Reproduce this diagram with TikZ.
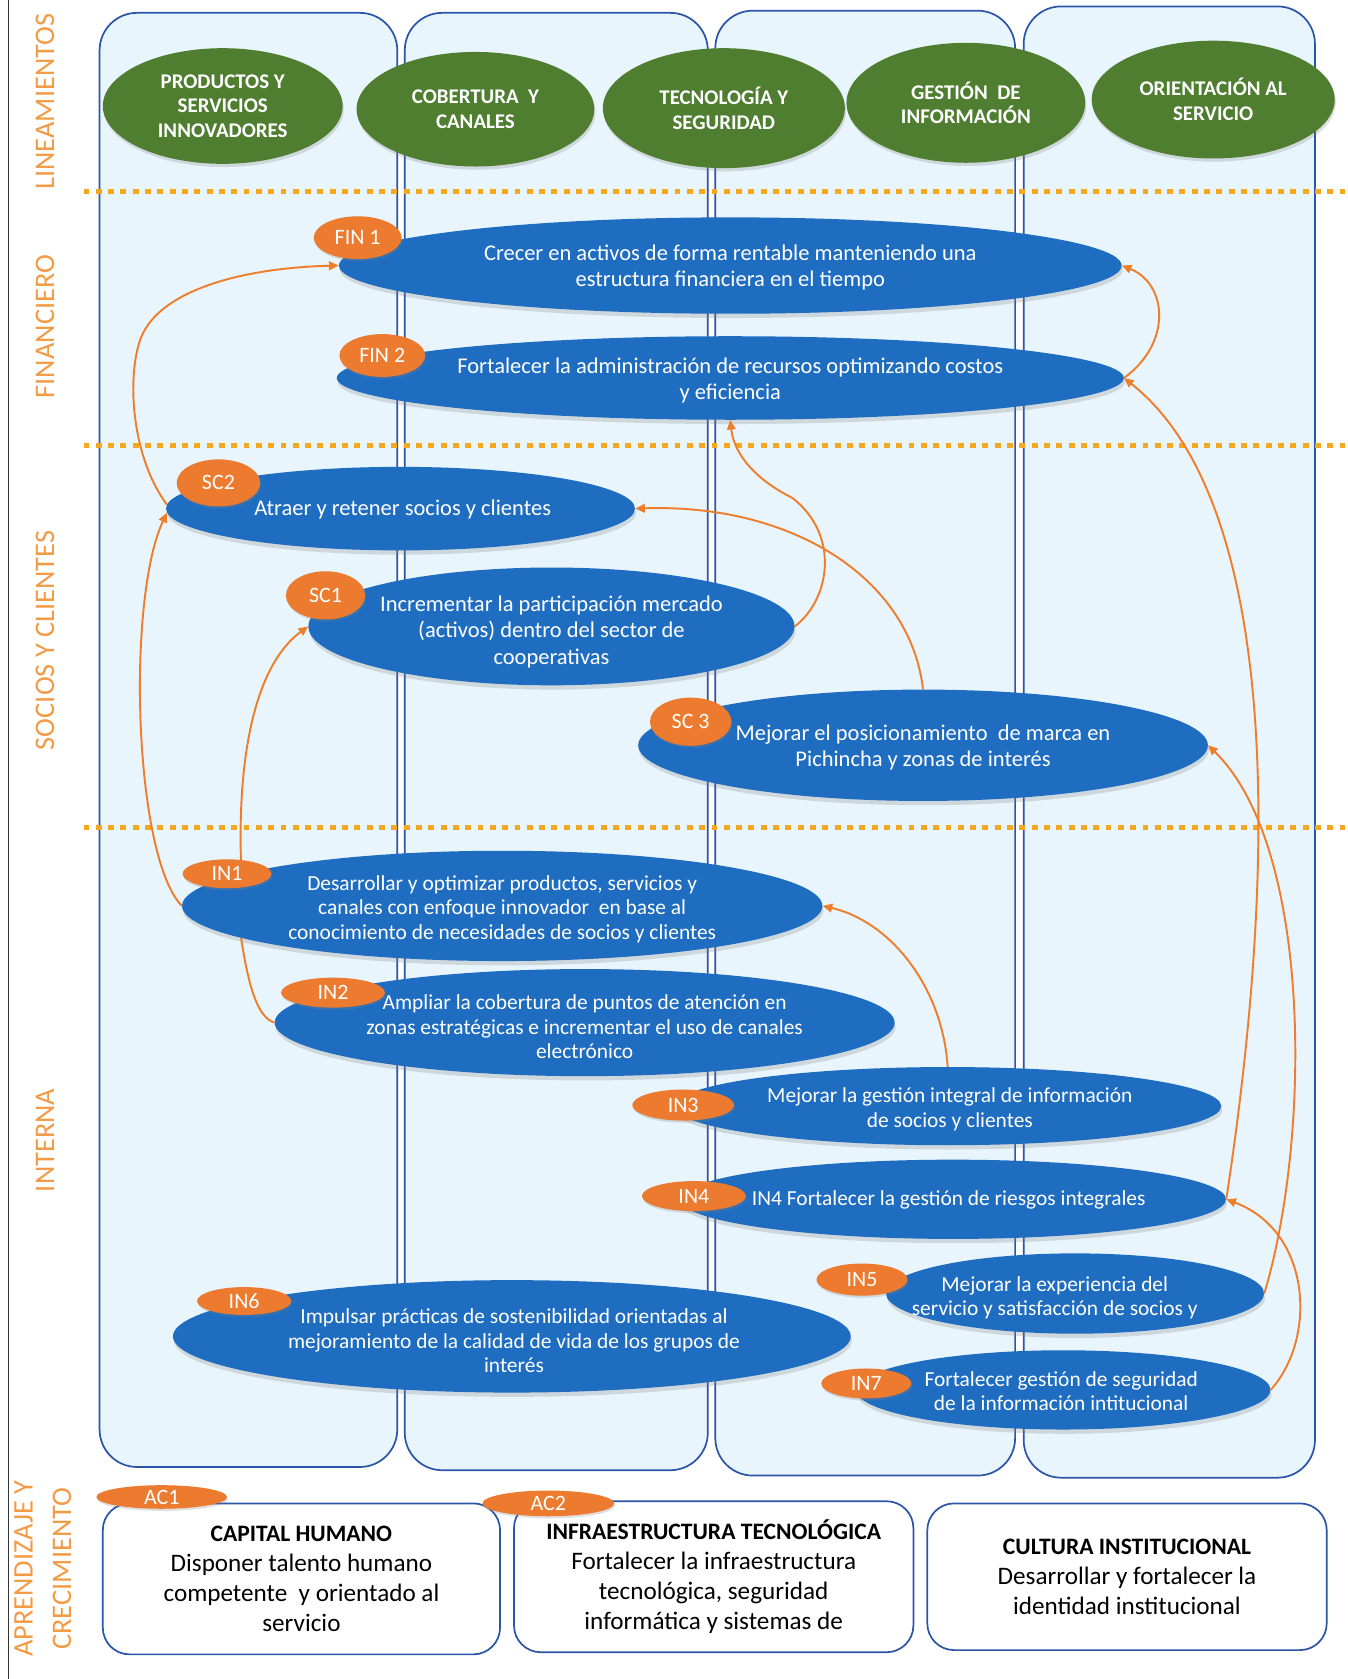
\documentclass[tikz,border=0pt]{standalone}
\usepackage{fontspec}
\setmainfont{Carlito}
\usetikzlibrary{shapes.geometric,arrows.meta,shadows}
\definecolor{colfill}{HTML}{E9F5FC}
\definecolor{colline}{HTML}{2A55A8}
\definecolor{greenc}{HTML}{4F7E31}
\definecolor{bluec}{HTML}{1F6DC1}
\definecolor{tagc}{HTML}{EC7B30}
\definecolor{arrowc}{HTML}{EE7E2C}
\definecolor{dotc}{HTML}{F4A81D}
\definecolor{rowc}{HTML}{F39A45}
\newcommand\acheadfont{\fontsize{22}{28}\selectfont\bfseries}
\begin{document}
\begin{tikzpicture}[x=1pt,y=-1pt,
  colbox/.style={draw=colline, line width=1.6pt, fill=colfill, rounded corners=35pt},
  sepline/.style={draw=dotc, line width=5pt, dash pattern=on 5.5pt off 6pt},
  rowlab/.style={rotate=90, text=rowc, font=\fontsize{26.5}{36}\selectfont, align=center, inner sep=0pt},
  lin/.style={ellipse, fill=greenc, text=white, font=\fontsize{19.5}{23}\selectfont\bfseries, align=center, inner sep=0pt,
     drop shadow={shadow xshift=1pt, shadow yshift=-3pt, opacity=0.25}},
  obj/.style={ellipse, fill=bluec, inner sep=0pt,
     drop shadow={shadow xshift=1pt, shadow yshift=-4pt, opacity=0.25}},
  objtext/.style={text=white, align=center, inner sep=0pt, font=\fontsize{21}{24.5}\selectfont},
  intext/.style={text=white, align=center, inner sep=0pt, font=\fontsize{20}{22.8}\selectfont},
  tag/.style={ellipse, fill=tagc, text=white, inner sep=0pt, font=\fontsize{20.5}{22}\selectfont,
     drop shadow={shadow xshift=1pt, shadow yshift=-2pt, opacity=0.25}},
  link/.style={draw=arrowc, line width=1.8pt, -{Triangle[length=9pt,width=8pt]}},
  plainlink/.style={draw=arrowc, line width=1.8pt},
  acbox/.style={rectangle, draw=colline, line width=1.6pt, fill=white, rounded corners=25pt, align=center,
     inner sep=0pt, font=\fontsize{23.5}{28}\selectfont}
]
\useasboundingbox (0,0) rectangle (1258,1568);
\fill[white] (0,0) rectangle (1258,1568);
\draw[line width=1.2pt, black!80] (8,0) -- (8,1568);

% columns
\path[colbox] (93,12) rectangle (371,1370);
\path[colbox] (378,12) rectangle (661,1373);
\path[colbox] (668,10) rectangle (948,1378);
\path[colbox] (956,6) rectangle (1228,1380);

% separators
\draw[sepline] (78,179) -- (1258,179);
\draw[sepline] (78,416) -- (1258,416);
\draw[sepline] (78,773) -- (1258,773);

% row labels
\node[rowlab] (rl1) at (42,95) {LINEAMIENTOS};
\node[rowlab] (rl2) at (42,305) {FINANCIERO};
\node[rowlab] (rl3) at (42,598) {SOCIOS Y CLIENTES};
\node[rowlab] (rl4) at (42,1065) {INTERNA};
\node[rowlab] (rl5) at (40,1465) {APRENDIZAJE Y\\CRECIMIENTO};

% lineamientos
\node[lin, minimum width=224pt, minimum height=108pt] (g1) at (208,99) {PRODUCTOS Y\\SERVICIOS\\INNOVADORES};
\node[lin, minimum width=222pt, minimum height=107pt] (g2) at (444,102) {COBERTURA~~Y\\CANALES};
\node[lin, minimum width=226pt, minimum height=112pt] (g3) at (676,101) {TECNOLOGÍA Y\\SEGURIDAD};
\node[lin, minimum width=223pt, minimum height=112pt] (g4) at (902,96) {GESTIÓN~~DE\\INFORMACIÓN};
\node[lin, minimum width=227pt, minimum height=110pt] (g5) at (1133,93) {ORIENTACIÓN AL\\SERVICIO};

% objectives
\node[obj, minimum width=731pt, minimum height=90pt] (fin1) at (682,248) {};
\node[objtext] (fin1t) at (682,250) {Crecer en activos de forma rentable manteniendo una\\estructura financiera en el tiempo};
\node[obj, minimum width=735pt, minimum height=78pt] (fin2) at (682,353) {};
\node[objtext] (fin2t) at (682,355) {Fortalecer la administración de recursos optimizando costos\\y eficiencia};
\node[obj, minimum width=438pt, minimum height=78pt] (sc2) at (374,475) {};
\node[objtext] (sc2t) at (376,476) {Atraer y retener socios y clientes};
\node[obj, minimum width=454pt, minimum height=110pt] (sc1) at (515,585) {};
\node[objtext] (sc1t) at (515,590) {Incrementar la participación mercado\\(activos) dentro del sector de\\cooperativas};
\node[obj, minimum width=532pt, minimum height=104pt] (sc3) at (862,696) {};
\node[objtext] (sc3t) at (862,698) {Mejorar el posicionamiento~ de marca en\\Pichincha y zonas de interés};
\node[obj, minimum width=598pt, minimum height=103pt] (in1) at (469,846) {};
\node[intext] (in1t) at (469,849) {Desarrollar y optimizar productos, servicios y\\canales con enfoque innovador~ en base al\\conocimiento de necesidades de socios y clientes};
\node[obj, minimum width=579pt, minimum height=100pt] (in2) at (546,955) {};
\node[intext] (in2t) at (546,959) {Ampliar la cobertura de puntos de atención en\\zonas estratégicas e incrementar el uso de canales\\electrónico};
\node[obj, minimum width=511pt, minimum height=73pt] (in3) at (885,1033) {};
\node[intext] (in3t) at (887,1036) {Mejorar la gestión integral de información\\de socios y clientes};
\node[obj, minimum width=510pt, minimum height=74pt] (in4) at (890,1120) {};
\node[intext] (in4t) at (886,1121) {IN4 Fortalecer la gestión de riesgos integrales};
\node[obj, minimum width=353pt, minimum height=75pt] (in5) at (1004,1208) {};
\node[intext] (in5t) at (985,1212) {Mejorar la experiencia del\\servicio y satisfacción de socios y};
\node[obj, minimum width=633pt, minimum height=105pt] (in6) at (478,1248) {};
\node[intext] (in6t) at (480,1252) {Impulsar prácticas de sostenibilidad orientadas al\\mejoramiento de la calidad de vida de los grupos de\\interés};
\node[obj, minimum width=387pt, minimum height=74pt] (in7) at (993,1298) {};
\node[intext] (in7t) at (991,1299) {Fortalecer gestión de seguridad\\de la información intitucional};

% tags
\node[tag, minimum width=82pt, minimum height=40pt] (fin1tag) at (334,222) {FIN 1};
\node[tag, minimum width=80pt, minimum height=40pt] (fin2tag) at (357,332) {FIN 2};
\node[tag, minimum width=78pt, minimum height=44pt] (sc2tag) at (204,451) {SC2};
\node[tag, minimum width=74pt, minimum height=45pt] (sc1tag) at (304,556) {SC1};
\node[tag, minimum width=76pt, minimum height=45pt] (sc3tag) at (645,674) {SC 3};
\node[tag, minimum width=83pt, minimum height=27pt] (in1tag) at (212,816) {IN1};
\node[tag, minimum width=97pt, minimum height=28pt] (in2tag) at (311,927) {IN2};
\node[tag, minimum width=95pt, minimum height=29pt] (in3tag) at (638,1032) {IN3};
\node[tag, minimum width=97pt, minimum height=28pt] (in4tag) at (648,1117) {IN4};
\node[tag, minimum width=85pt, minimum height=30pt] (in5tag) at (805,1195) {IN5};
\node[tag, minimum width=88pt, minimum height=26pt] (in6tag) at (228,1215) {IN6};
\node[tag, minimum width=84pt, minimum height=28pt] (in7tag) at (809,1292) {IN7};

% connectors
\draw[link] (sc2.179) .. controls (125,430) and (118,360) .. (130,320) .. controls (145,270) and (230,250) .. (fin1.west);
\draw[link] (in1.west) .. controls (125,800) and (118,560) .. (sc2.181);
\draw[link] (in1tag.45) .. controls (222,700) and (240,620) .. (sc1.west);
\draw[plainlink] (in1.187) .. controls (232,920) and (240,950) .. (in2.west);
\draw[link] (sc1.east) .. controls (775,560) and (785,500) .. (740,465) .. controls (700,445) and (685,420) .. (fin2.south);
\draw[link] (sc3.north) .. controls (850,540) and (740,470) .. (sc2.east);
\draw[link] (in3.north) .. controls (880,920) and (830,860) .. (in1.east);
\draw[link] (fin2.east) .. controls (1095,320) and (1090,265) .. (fin1.east);
\draw[link] (in4.east) .. controls (1200,760) and (1185,460) .. (fin2.east);
\draw[link] (in5.east) .. controls (1225,1060) and (1225,790) .. (sc3.east);
\draw[link] (in7.east) .. controls (1230,1250) and (1225,1150) .. (in4.east);

% learning boxes
\node[acbox, minimum width=371pt, minimum height=141pt] (box1) at (281.5,1474.5)
  {{\acheadfont CAPITAL HUMANO}\\Disponer talento humano\\competente~ y orientado al\\servicio};
\node[acbox, minimum width=373pt, minimum height=141pt] (box2) at (666.5,1472.5)
  {{\acheadfont INFRAESTRUCTURA TECNOLÓGICA}\\Fortalecer la infraestructura\\tecnológica, seguridad\\informática y sistemas de};
\node[acbox, minimum width=373pt, minimum height=137pt] (box3) at (1052.5,1472.5)
  {{\acheadfont CULTURA INSTITUCIONAL}\\Desarrollar y fortalecer la\\identidad institucional};
\node[tag, minimum width=122pt, minimum height=22pt] (ac1tag) at (151,1398) {AC1};
\node[tag, minimum width=123pt, minimum height=24pt] (ac2tag) at (512,1404) {AC2};
\end{tikzpicture}
\end{document}
